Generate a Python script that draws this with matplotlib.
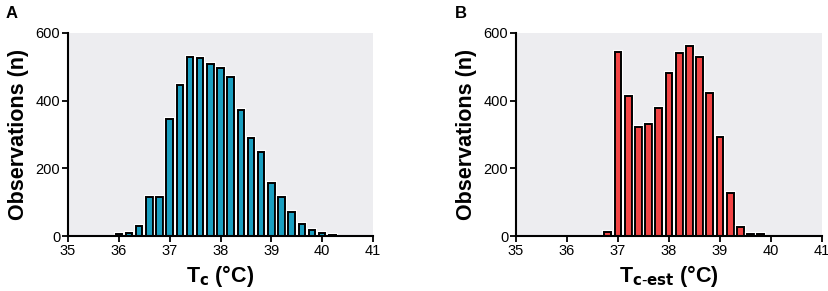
import matplotlib
matplotlib.use("Agg")
import matplotlib.pyplot as plt
import matplotlib.patheffects as pe
import numpy as np

plt.rcParams['font.family'] = ['Liberation Sans', 'DejaVu Sans']

# Panel A: core temperature
tc_bins = [36.0, 36.2, 36.4, 36.6, 36.8, 37.0, 37.2, 37.4, 37.6, 37.8, 38.0,
           38.2, 38.4, 38.6, 38.8, 39.0, 39.2, 39.4, 39.6, 39.8, 40.0, 40.2]
tc_counts = [5, 8, 31, 116, 116, 345, 447, 528, 525, 507, 496,
             469, 373, 289, 247, 157, 114, 71, 36, 19, 8, 4]

# Panel B: estimated core temperature
tce_bins = [36.8, 37.0, 37.2, 37.4, 37.6, 37.8, 38.0, 38.2, 38.4, 38.6,
            38.8, 39.0, 39.2, 39.4, 39.6, 39.8]
tce_counts = [12, 544, 415, 322, 332, 379, 483, 541, 561, 528,
              423, 293, 126, 28, 6, 5]

xticks = [35, 36, 37, 38, 39, 40, 41]
yticks = [0, 200, 400, 600]

fig = plt.figure(figsize=(8.29, 2.91), dpi=100)
axA = fig.add_axes([68/829, 1-236/291, (373-68)/829, (236-33)/291])
axB = fig.add_axes([516/829, 1-236/291, (822-516)/829, (236-33)/291])

def style(ax, bins, counts, color, xlabel, panel, px):
    ax.set_facecolor('#EDEDF0')
    bars = ax.bar(bins, counts, width=0.13, color=color, edgecolor='black',
                  linewidth=1.4, zorder=3)
    for b in bars:
        b.set_path_effects([pe.Stroke(linewidth=3.0, foreground='white'), pe.Normal()])
    ax.set_xlim(35, 41)
    ax.set_ylim(0, 600)
    ax.set_xticks(xticks)
    ax.set_yticks(yticks)
    for s in ['top', 'right']:
        ax.spines[s].set_visible(False)
    for s in ['left', 'bottom']:
        ax.spines[s].set_linewidth(1.5)
        ax.spines[s].set_zorder(4)
    ax.tick_params(direction='out', length=4, width=1.3, labelsize=10.5, pad=1.5)
    ax.set_ylabel('Observations (n)', fontsize=15.5, fontweight='bold', labelpad=5)
    ax.set_xlabel(xlabel, fontsize=15.5, fontweight='bold', labelpad=4)
    fig.text(px/829, 1-14/291, panel, fontsize=12, fontweight='bold',
             ha='left', va='center')

style(axA, tc_bins, tc_counts, '#1A9FC0', r'T$_\mathbf{c}$ (°C)', 'A', 6)
style(axB, tce_bins, tce_counts, '#F24545', r'T$_\mathbf{c\text{-}est}$ (°C)', 'B', 455)

fig.savefig('out.png', dpi=100)
